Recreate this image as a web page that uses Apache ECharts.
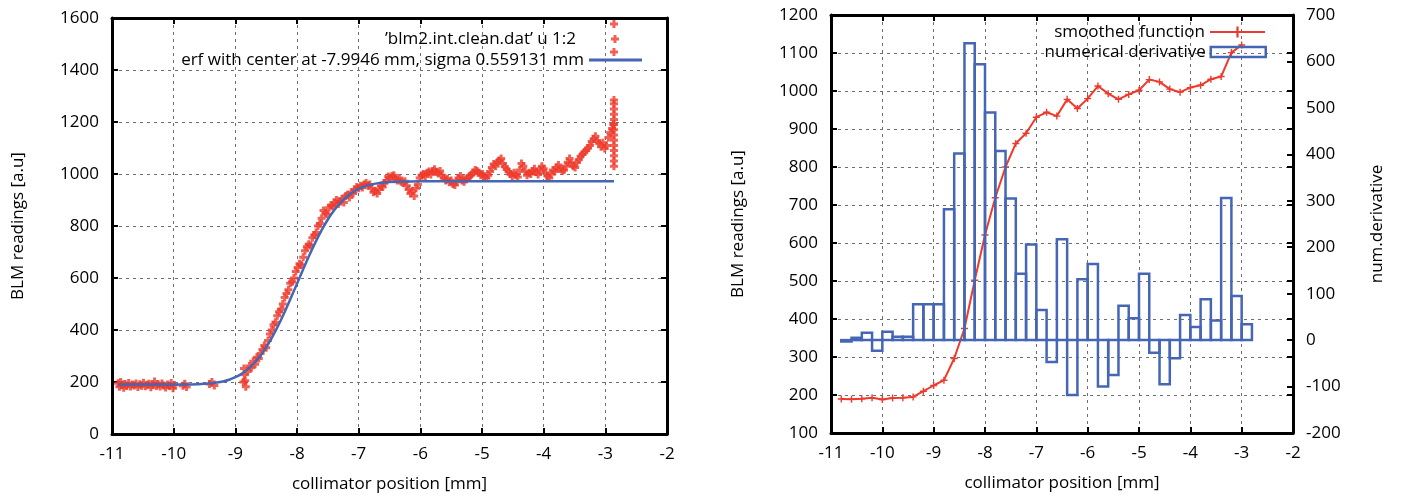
<!DOCTYPE html>
<html>
<head>
<meta charset="UTF-8" />
<title>BLM scan: erf fit and numerical derivative</title>
<style>
  html, body { margin: 0; padding: 0; background: #fff; }
  #chart { width: 1401px; height: 503px; }
</style>
</head>
<body>
<div id="chart"></div>
<script src="https://cdn.jsdelivr.net/npm/echarts@6/dist/echarts.min.js"></script>
<script>
  // --- left panel: raw scan points [position mm, BLM reading] ---
  const scanPoints = [
    [-10.90,195],[-10.88,182],[-10.86,200],[-10.84,188],[-10.81,178],[-10.79,192],[-10.76,185],[-10.73,196],
    [-10.70,183],[-10.67,190],[-10.64,187],[-10.61,194],[-10.58,181],[-10.55,191],[-10.52,186],[-10.49,197],
    [-10.46,184],[-10.43,189],[-10.40,193],[-10.37,180],[-10.34,188],[-10.31,202],[-10.28,185],[-10.25,191],
    [-10.22,183],[-10.19,194],[-10.16,187],[-10.13,179],[-10.10,190],[-10.07,185],[-10.04,196],[-10.01,176],
    [-9.99,188],[-9.85,186],[-9.82,193],[-9.79,181],[-9.42,192],[-9.38,200],[-9.34,187],
    [-8.87,200],[-8.86,252],[-8.85,228],[-8.84,205],[-8.83,182],[-8.80,240],[-8.77,262],[-8.74,255],
    [-8.71,280],[-8.68,268],[-8.65,295],[-8.62,290],[-8.59,310],[-8.56,325],[-8.53,340],[-8.50,332],
    [-8.47,360],[-8.44,385],[-8.41,400],[-8.38,420],[-8.35,430],[-8.32,455],[-8.29,470],[-8.26,480],
    [-8.23,500],[-8.20,525],[-8.17,540],[-8.14,555],[-8.11,580],[-8.08,585],[-8.05,600],[-8.02,625],
    [-7.99,640],[-7.96,655],[-7.93,650],[-7.90,680],[-7.87,705],[-7.84,720],[-7.81,730],[-7.78,725],
    [-7.75,755],[-7.72,765],[-7.69,775],[-7.66,800],[-7.63,810],[-7.60,830],[-7.57,860],[-7.54,850],
    [-7.51,845],[-7.48,870],[-7.45,880],[-7.42,875],[-7.39,890],[-7.36,900],[-7.33,885],[-7.30,895],
    [-7.27,905],[-7.24,890],[-7.21,915],[-7.18,920],[-7.15,910],[-7.12,930],[-7.09,925],[-7.06,940],
    [-7.03,950],[-7.00,945],[-6.97,955],[-6.94,948],[-6.91,960],[-6.88,965],[-6.85,955],[-6.82,960],
    [-6.79,945],[-6.76,930],[-6.73,935],[-6.70,925],[-6.67,940],[-6.64,955],[-6.61,950],[-6.58,965],
    [-6.55,975],[-6.52,990],[-6.49,985],[-6.46,992],[-6.43,995],[-6.40,980],[-6.37,975],[-6.34,985],
    [-6.31,970],[-6.28,965],[-6.25,972],[-6.22,955],[-6.19,940],[-6.16,925],[-6.13,935],[-6.10,915],
    [-6.07,945],[-6.04,960],[-6.01,985],[-5.98,995],[-5.95,1000],[-5.92,990],[-5.89,1005],[-5.86,1010],
    [-5.83,998],[-5.80,1012],[-5.77,1018],[-5.74,1008],[-5.71,1002],[-5.68,1012],[-5.65,995],[-5.62,985],
    [-5.59,975],[-5.56,982],[-5.53,968],[-5.50,975],[-5.47,962],[-5.44,958],[-5.41,970],[-5.38,985],
    [-5.35,992],[-5.32,975],[-5.29,970],[-5.26,980],[-5.23,985],[-5.20,992],[-5.17,998],[-5.14,1005],
    [-5.11,1015],[-5.08,1012],[-5.05,1005],[-5.02,995],[-4.99,1000],[-4.96,990],[-4.93,985],[-4.90,995],
    [-4.87,1010],[-4.84,1025],[-4.81,1038],[-4.78,1030],[-4.75,1045],[-4.72,1052],[-4.69,1060],[-4.66,1040],
    [-4.63,1028],[-4.60,1018],[-4.57,1010],[-4.54,1000],[-4.51,992],[-4.48,1005],[-4.45,995],[-4.42,988],
    [-4.39,1015],[-4.36,1040],[-4.33,1030],[-4.30,1010],[-4.27,995],[-4.24,1005],[-4.21,1000],[-4.18,1012],
    [-4.15,1020],[-4.12,1008],[-4.09,998],[-4.06,1015],[-4.03,1030],[-4.00,1020],[-3.97,1005],[-3.94,992],
    [-3.91,985],[-3.88,1000],[-3.85,1015],[-3.82,1010],[-3.79,1025],[-3.76,1035],[-3.73,1020],[-3.70,1012],
    [-3.67,1015],[-3.64,1030],[-3.61,1045],[-3.58,1060],[-3.55,1040],[-3.52,1030],[-3.49,1025],[-3.46,1045],
    [-3.43,1055],[-3.40,1068],[-3.37,1075],[-3.34,1085],[-3.31,1090],[-3.28,1100],[-3.25,1110],[-3.22,1125],
    [-3.19,1135],[-3.16,1145],[-3.13,1128],[-3.10,1118],[-3.07,1105],[-3.04,1120],[-3.01,1098],[-2.98,1110],
    [-2.95,1140],[-2.92,1160],[-2.89,1175],[-2.87,1190],
    [-2.86,1030],[-2.86,1050],[-2.86,1070],[-2.86,1090],[-2.86,1110],[-2.86,1130],[-2.86,1150],[-2.86,1170],
    [-2.86,1190],[-2.86,1210],[-2.86,1230],[-2.86,1250],[-2.86,1270],[-2.86,1285],[-2.86,1469],[-2.86,1577]
  ];

  // erf fit curve
  const fitPos = [-10.9,-10.0,-9.6,-9.5,-9.4,-9.3,-9.2,-9.1,-9.0,-8.9,-8.8,-8.7,-8.6,-8.5,-8.4,-8.3,-8.2,
    -8.1,-8.0,-7.9,-7.8,-7.7,-7.6,-7.5,-7.4,-7.3,-7.2,-7.1,-7.0,-6.9,-6.8,-6.7,-6.6,-6.5,-6.3,-6.0,-2.86];
  const fitBlm = [190,190,191.6,192.8,194.7,197.7,202.2,208.8,218.3,231.3,248.7,271.2,299.3,333.3,373.4,419,469.3,
    523,578,633.5,687.4,738.1,784.2,824.9,859.6,888.4,911.3,929.1,942.6,952.4,959.2,963.9,967.1,969.1,971,972,972];

  // --- right panel ---
  const smoothPos = [-10.8,-10.6,-10.4,-10.2,-10.0,-9.8,-9.6,-9.4,-9.2,-9.0,-8.8,-8.6,-8.4,-8.2,-8.0,-7.8,-7.6,
    -7.4,-7.2,-7.0,-6.8,-6.6,-6.4,-6.2,-6.0,-5.8,-5.6,-5.4,-5.2,-5.0,-4.8,-4.6,-4.4,-4.2,-4.0,-3.8,-3.6,-3.4,-3.2,-3.0];
  const smoothBlm = [189.5,189,190,193,188,192,193,195,210,225,239,296,375,502,621,719,800,
    862,889,931,944,934,978,954,980,1013,993,978,991,1002,1030,1024,1005,997,1009,1015,1031,1038,1101,1121];

  // numerical derivative, bin centres (bins 0.2 mm wide)
  const derivPos = [-10.7,-10.5,-10.3,-10.1,-9.9,-9.7,-9.5,-9.3,-9.1,-8.9,-8.7,-8.5,-8.3,-8.1,-7.9,-7.7,-7.5,
    -7.3,-7.1,-6.9,-6.7,-6.5,-6.3,-6.1,-5.9,-5.7,-5.5,-5.3,-5.1,-4.9,-4.7,-4.5,-4.3,-4.1,-3.9,-3.7,-3.5,-3.3,-3.1,-2.9];
  const derivVal = [-3,5,16,-23,18,7,7,77,77,77,282,402,639,594,490,407,305,
    143,206,65,-47,217,-118,131,164,-100,-75,74,47,143,-27,-95,-39,54,28,88,42,306,95,34];
  const BIN_W = 0.2;

  const scatterName = '\u2019blm2.int.clean.dat\u2019 u 1:2';
  const fitName = 'erf with center at -7.9946 mm, sigma 0.559131 mm';

  const RED = '#ee3a2c';
  const BLUE = '#4566b4';
  const FONT = 'Open Sans';
  const PLUS = 'path://M2.5,0H5.5V2.5H8V5.5H5.5V8H2.5V5.5H0V2.5H2.5Z';
  const PLUS_THIN = 'path://M3.2,0H4.8V3.2H8V4.8H4.8V8H3.2V4.8H0V3.2H3.2Z';

  const chart = echarts.init(document.getElementById('chart'));

  const txt = { fontFamily: FONT, fontSize: 17, color: '#000' };
  const lbl = Object.assign({ margin: 13, formatter: v => String(v) }, txt);
  const frame = { show: true, onZero: false, lineStyle: { color: '#000', width: 3 } };
  const ticks = { show: true, inside: true, length: 6, lineStyle: { color: '#000', width: 2 } };
  const dashed = { show: true, lineStyle: { color: '#6f6f6f', width: 1, type: [3, 4] } };

  function xAxis(grid, pos, main) {
    return {
      type: 'value', gridIndex: grid, position: pos, min: -11, max: -2, interval: 1,
      axisLine: frame, axisTick: ticks,
      axisLabel: main ? Object.assign({}, lbl, { margin: 12 }) : { show: false },
      splitLine: main ? dashed : { show: false },
      name: main ? 'collimator position [mm]' : '', nameLocation: 'middle', nameGap: 42,
      nameTextStyle: txt
    };
  }
  function yAxis(grid, pos, min, max, step, opts) {
    return Object.assign({
      type: 'value', gridIndex: grid, position: pos, min: min, max: max, interval: step,
      axisLine: frame, axisTick: ticks, axisLabel: { show: false }, splitLine: { show: false },
      nameLocation: 'middle', nameRotate: 90, nameTextStyle: txt
    }, opts || {});
  }

  const option = {
    animation: false,
    textStyle: { fontFamily: FONT },
    grid: [
      { left: 112, top: 18, width: 555, height: 416 },
      { left: 831, top: 15, width: 462, height: 418 }
    ],
    xAxis: [
      xAxis(0, 'bottom', true),
      xAxis(0, 'top', false),
      xAxis(1, 'bottom', true),
      xAxis(1, 'top', false)
    ],
    yAxis: [
      yAxis(0, 'left', 0, 1600, 200, {
        axisLabel: lbl, splitLine: dashed,
        name: 'BLM readings [a.u]', nameGap: 85
      }),
      yAxis(0, 'right', 0, 1600, 200),
      yAxis(1, 'left', 100, 1200, 100, {
        axisLabel: lbl, splitLine: dashed,
        name: 'BLM readings [a.u]', nameGap: 84
      }),
      yAxis(1, 'right', -200, 700, 100, {
        axisLabel: lbl,
        name: 'num.derivative', nameGap: 76
      }),
      yAxis(1, 'right', 100, 1200, 100, { axisLine: { show: false } })
    ],
    legend: [
      {
        data: [{ name: scatterName, icon: PLUS }], selectedMode: false,
        orient: 'vertical', align: 'right', right: 782, top: 29, padding: 0,
        itemWidth: 8, itemHeight: 8,
        textStyle: Object.assign({ lineHeight: 20, padding: [0, 30, 0, 0] }, txt)
      },
      {
        data: [{ name: fitName, icon: 'rect' }], selectedMode: false,
        orient: 'vertical', align: 'right', right: 759, top: 50, padding: 0,
        itemWidth: 53, itemHeight: 3,
        textStyle: Object.assign({ lineHeight: 20 }, txt)
      },
      {
        data: ['smoothed function'], selectedMode: false,
        orient: 'vertical', align: 'right', right: 135, top: 22, padding: 0,
        itemWidth: 55, itemHeight: 14,
        textStyle: Object.assign({ lineHeight: 20 }, txt)
      },
      {
        data: [{
          name: 'numerical derivative', icon: 'rect',
          itemStyle: { color: 'rgba(0,0,0,0)', borderColor: BLUE, borderWidth: 2.5 }
        }],
        selectedMode: false,
        orient: 'vertical', align: 'right', right: 134, top: 42, padding: 0,
        itemWidth: 55, itemHeight: 10,
        textStyle: Object.assign({ lineHeight: 20 }, txt)
      }
    ],
    series: [
      {
        name: scatterName, type: 'scatter', xAxisIndex: 0, yAxisIndex: 0,
        data: scanPoints, symbol: PLUS, symbolSize: 8,
        itemStyle: { color: RED }, z: 2
      },
      {
        name: fitName, type: 'line', xAxisIndex: 0, yAxisIndex: 0,
        data: fitPos.map((x, i) => [x, fitBlm[i]]),
        symbol: 'none', smooth: 0.2,
        lineStyle: { color: BLUE, width: 2.5 }, itemStyle: { color: BLUE }, z: 3
      },
      {
        name: 'smoothed function', type: 'line', xAxisIndex: 2, yAxisIndex: 2,
        data: smoothPos.map((x, i) => [x, smoothBlm[i]]),
        symbol: PLUS_THIN, symbolSize: 7, showAllSymbol: true,
        lineStyle: { color: RED, width: 2 }, itemStyle: { color: RED }, z: 2
      },
      {
        name: 'numerical derivative', type: 'custom', xAxisIndex: 2, yAxisIndex: 3,
        data: derivPos.map((x, i) => [x, derivVal[i]]),
        itemStyle: { color: BLUE },
        z: 3,
        renderItem: function (params, api) {
          const x = api.value(0);
          const v = api.value(1);
          const a = api.coord([x - BIN_W / 2, v]);
          const b = api.coord([x + BIN_W / 2, 0]);
          return {
            type: 'rect',
            shape: {
              x: a[0], y: Math.min(a[1], b[1]),
              width: b[0] - a[0], height: Math.abs(b[1] - a[1])
            },
            style: { fill: 'none', stroke: BLUE, lineWidth: 2.5 }
          };
        }
      }
    ]
  };

  chart.setOption(option);
</script>
</body>
</html>
